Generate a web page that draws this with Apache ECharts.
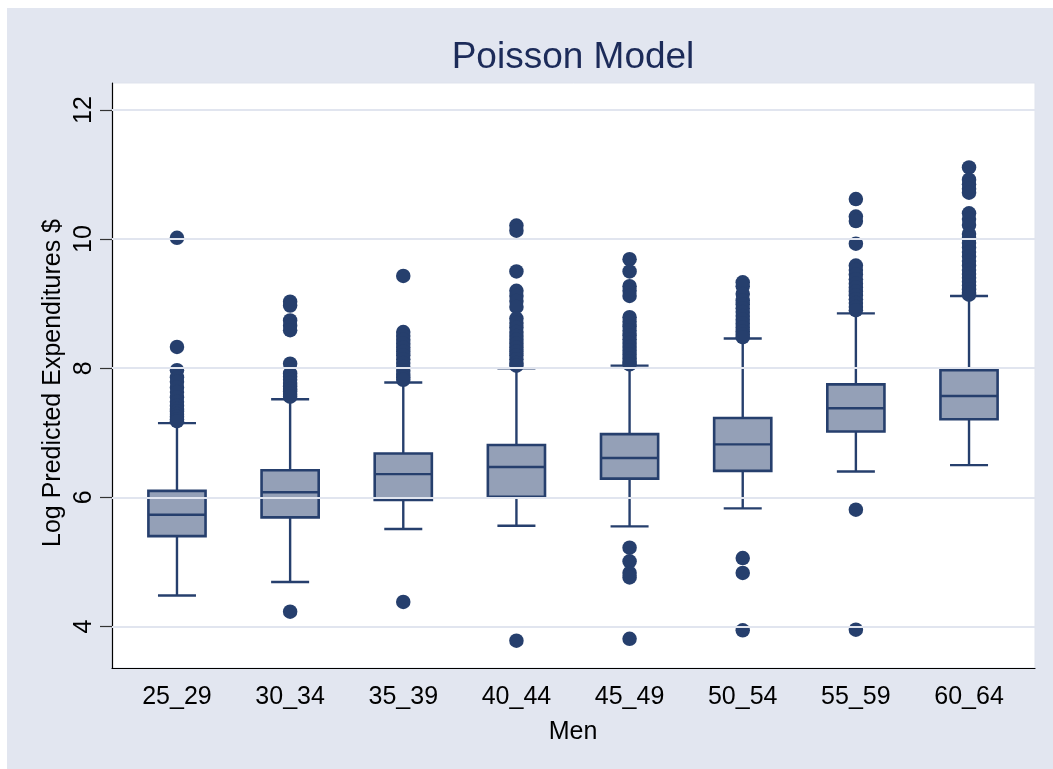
<!DOCTYPE html>
<html>
<head>
<meta charset="utf-8">
<script src="https://cdn.jsdelivr.net/npm/echarts@6/dist/echarts.min.js"></script>
<style>
html,body{margin:0;padding:0;background:#fff;overflow:hidden;}
#chart{width:1053px;height:769px;}
</style>
</head>
<body>
<div id="chart"></div>
<script>
// ---- data ----
const categories = ['25_29','30_34','35_39','40_44','45_49','50_54','55_59','60_64'];
const whiskerLow  = [4.48, 4.69, 5.51, 5.56, 5.55, 5.83, 6.40, 6.50];
const boxQ1       = [5.40, 5.69, 5.96, 6.01, 6.29, 6.41, 7.02, 7.21];
const boxMedian   = [5.73, 6.08, 6.36, 6.47, 6.61, 6.82, 7.38, 7.57];
const boxQ3       = [6.10, 6.42, 6.68, 6.81, 6.98, 7.23, 7.75, 7.97];
const whiskerHigh = [7.15, 7.52, 7.78, 8.00, 8.04, 8.46, 8.85, 9.12];

const outliers25_29 = [10.02, 8.33, 7.97, 7.86, 7.79, 7.70, 7.63, 7.55, 7.48, 7.42, 7.37, 7.33, 7.29, 7.25, 7.21, 7.18];
const outliers30_34 = [9.03, 8.97, 8.74, 8.66, 8.59, 8.07, 7.92, 7.87, 7.82, 7.77, 7.72, 7.68, 7.64, 7.60, 7.56, 4.23];
const outliers35_39 = [9.43, 8.56, 8.50, 8.44, 8.38, 8.32, 8.26, 8.20, 8.14, 8.08, 8.02, 7.96, 7.91, 7.86, 7.82, 4.38];
const outliers40_44 = [10.21, 10.13, 9.50, 9.20, 9.12, 9.04, 8.95, 8.77, 8.70, 8.63, 8.56, 8.50, 8.44, 8.38, 8.32, 8.26, 8.20, 8.14, 8.08, 8.04, 3.78];
const outliers45_49 = [9.69, 9.50, 9.27, 9.20, 9.12, 8.79, 8.72, 8.65, 8.58, 8.51, 8.45, 8.39, 8.33, 8.27, 8.21, 8.15, 8.10, 8.06, 5.22, 5.01, 4.83, 4.76, 3.81];
const outliers50_54 = [9.33, 9.27, 9.15, 9.05, 8.99, 8.93, 8.87, 8.81, 8.75, 8.69, 8.63, 8.57, 8.52, 8.48, 5.06, 4.83, 3.94];
const outliers55_59 = [10.62, 10.35, 10.28, 9.93, 9.59, 9.52, 9.45, 9.38, 9.31, 9.25, 9.19, 9.13, 9.07, 9.01, 8.95, 8.90, 5.81, 3.95];
const outliers60_64 = [11.11, 10.92, 10.85, 10.78, 10.72, 10.40, 10.31, 10.22, 10.08, 10.01, 9.94, 9.87, 9.80, 9.73, 9.66, 9.59, 9.52, 9.46, 9.40, 9.34, 9.28, 9.22, 9.17, 9.14];

const yTicks = [4, 6, 8, 10, 12];
const yMin = 3.357, yMax = 12.418;
const yTitle = 'Log Predicted Expenditures $';
const xTitle = 'Men';
const chartTitle = 'Poisson Model';

// ---- build ----
const outlierLists = [outliers25_29, outliers30_34, outliers35_39, outliers40_44,
                      outliers45_49, outliers50_54, outliers55_59, outliers60_64];
const boxData = categories.map((c, i) => [i, whiskerLow[i], boxQ1[i], boxMedian[i], boxQ3[i], whiskerHigh[i]]);
const outlierData = [];
outlierLists.forEach((arr, i) => arr.forEach(v => outlierData.push([i, v])));

const NAVY = '#263f6d';
const FILL = '#94a0b7';
const FONT = '"Liberation Sans", Arial, sans-serif';

const chart = echarts.init(document.getElementById('chart'));
chart.setOption({
  backgroundColor: '#ffffff',
  animation: false,
  graphic: [
    { type: 'rect', z: -100, silent: true, shape: { x: 7, y: 8, width: 1100, height: 800 }, style: { fill: '#e2e6f0' } },
    { type: 'text', z: 10, silent: true, style: { text: chartTitle, x: 573, y: 58, align: 'center', verticalAlign: 'middle',
      font: '37px "Liberation Sans", Arial, sans-serif', fill: '#1c2b59' } },
    { type: 'text', z: 10, silent: true, x: 53, y: 383, rotation: Math.PI / 2,
      style: { text: yTitle, x: 0, y: 0, align: 'center', verticalAlign: 'middle',
      font: '25px "Liberation Sans", Arial, sans-serif', fill: '#000' } }
  ],
  grid: [
    { left: 112, right: 18, top: 83, bottom: 101, show: true, backgroundColor: '#ffffff', borderColor: '#dfe3ed', borderWidth: 1, containLabel: false },
    { left: 120.4, right: 27.4, top: 83, bottom: 101, containLabel: false }
  ],
  xAxis: [
    { type: 'value', gridIndex: 0, min: 0, max: 1, axisLine: { show: true, onZero: false, lineStyle: { color: '#000', width: 1.2 } },
      axisTick: { show: false }, axisLabel: { show: false }, splitLine: { show: false } },
    { type: 'category', gridIndex: 1, data: categories, boundaryGap: true,
      axisLine: { show: false }, axisTick: { show: false }, splitLine: { show: false },
      axisLabel: { color: '#000', fontSize: 25, fontFamily: FONT, margin: 17 },
      name: xTitle, nameLocation: 'middle', nameGap: 52,
      nameTextStyle: { color: '#000', fontSize: 25, fontFamily: FONT } }
  ],
  yAxis: [
    { type: 'value', gridIndex: 0, min: yMin, max: yMax,
      axisLine: { show: true, onZero: false, lineStyle: { color: '#000', width: 1.2 } },
      axisTick: { show: true, length: 12, customValues: yTicks, lineStyle: { color: '#333', width: 1.2 } },
      axisLabel: { show: true, customValues: yTicks, rotate: 90, color: '#000', fontSize: 25, fontFamily: FONT, margin: 15 },
      splitLine: { show: false } },
    { type: 'value', gridIndex: 1, min: yMin, max: yMax, show: false, splitLine: { show: false } }
  ],
  series: [
    {
      type: 'scatter', xAxisIndex: 0, yAxisIndex: 0, data: [], z: 1, silent: true,
      markLine: {
        silent: true, symbol: 'none', label: { show: false },
        lineStyle: { color: '#e1e5ef', width: 2.2, type: 'solid' },
        data: yTicks.map(v => ({ yAxis: v }))
      }
    },
    {
      type: 'custom', xAxisIndex: 1, yAxisIndex: 1, z: 3, silent: true,
      data: boxData,
      renderItem: function (params, api) {
        const idx = api.value(0);
        const x = api.coord([idx, api.value(3)])[0];
        const band = api.size([1, 0])[0];
        const bw = band * 0.505, cw = band * 0.336;
        const yLo = api.coord([idx, api.value(1)])[1];
        const yQ1 = api.coord([idx, api.value(2)])[1];
        const yMed = api.coord([idx, api.value(3)])[1];
        const yQ3 = api.coord([idx, api.value(4)])[1];
        const yHi = api.coord([idx, api.value(5)])[1];
        const ls = { stroke: NAVY, lineWidth: 2.4, fill: null };
        return {
          type: 'group',
          children: [
            { type: 'line', shape: { x1: x, y1: yQ3, x2: x, y2: yHi }, style: ls },
            { type: 'line', shape: { x1: x, y1: yQ1, x2: x, y2: yLo }, style: ls },
            { type: 'line', shape: { x1: x - cw / 2, y1: yHi, x2: x + cw / 2, y2: yHi }, style: ls },
            { type: 'line', shape: { x1: x - cw / 2, y1: yLo, x2: x + cw / 2, y2: yLo }, style: ls },
            { type: 'rect', shape: { x: x - bw / 2, y: yQ3, width: bw, height: yQ1 - yQ3 }, style: { fill: FILL, stroke: NAVY, lineWidth: 2.6 } },
            { type: 'line', shape: { x1: x - bw / 2, y1: yMed, x2: x + bw / 2, y2: yMed }, style: ls }
          ]
        };
      }
    },
    {
      type: 'scatter', xAxisIndex: 1, yAxisIndex: 1, z: 4, silent: true,
      symbol: 'circle', symbolSize: 14.5,
      itemStyle: { color: NAVY, opacity: 1 },
      data: outlierData
    }
  ]
});
</script>
</body>
</html>
